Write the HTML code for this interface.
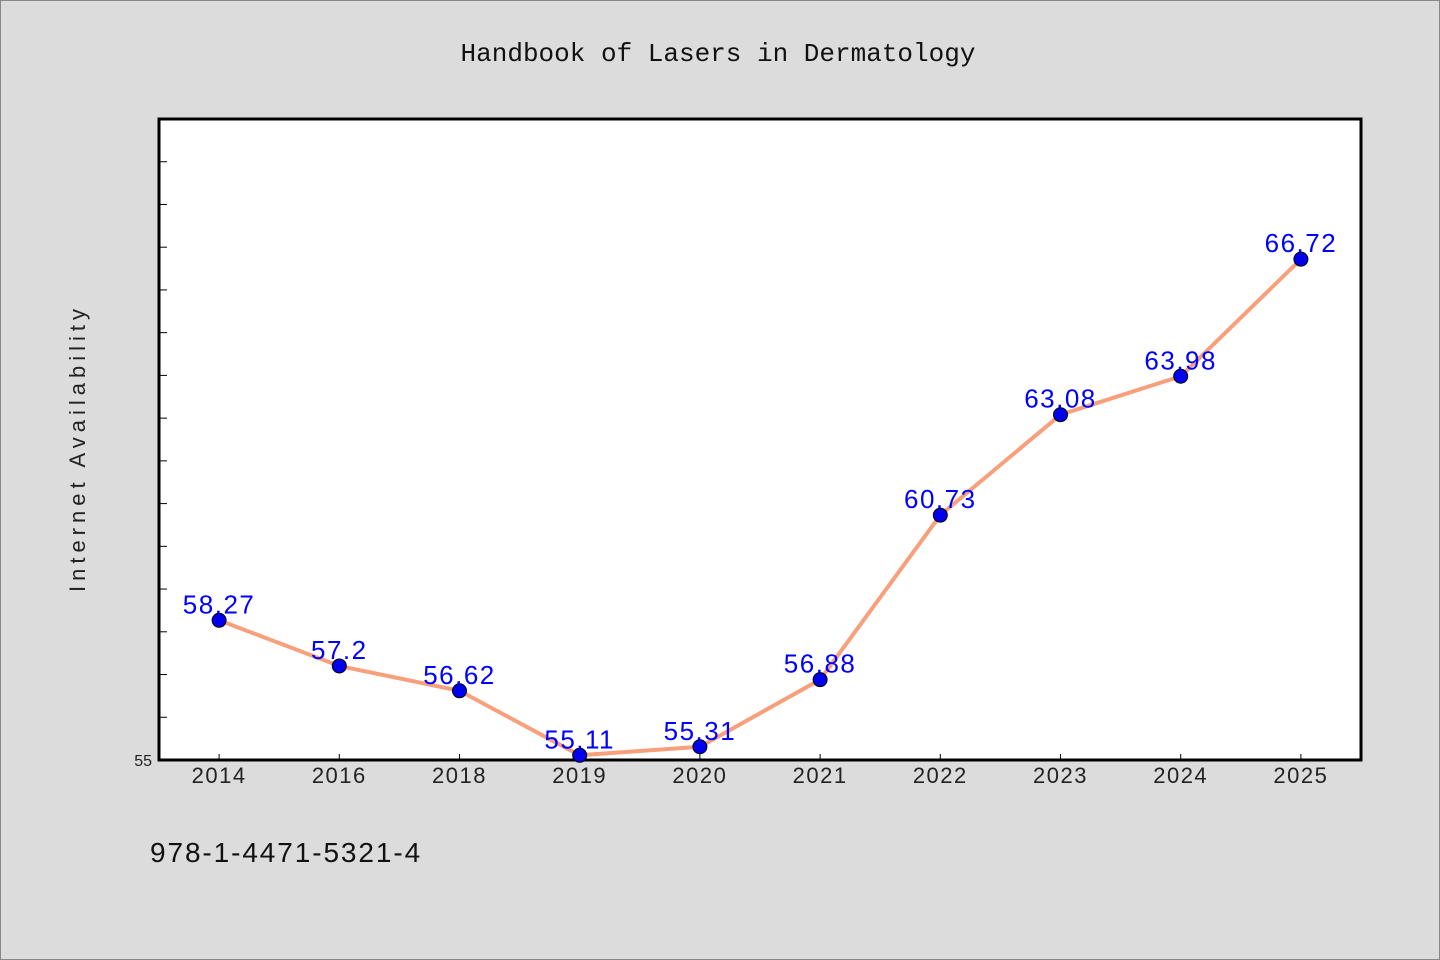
<!DOCTYPE html>
<html><head><meta charset="utf-8"><style>
html,body{margin:0;padding:0;}
body{width:1440px;height:960px;background:#dcdcdc;overflow:hidden;}
svg{display:block;}
text{font-family:"Liberation Sans",sans-serif;}
</style></head><body>
<svg id="chart" width="1440" height="960">
<rect x="0.5" y="0.5" width="1439" height="959" fill="#dcdcdc" stroke="#888"/>
<text x="718" y="61" font-size="26" text-anchor="middle" fill="#111" style="font-family:'Liberation Mono',monospace">Handbook of Lasers in Dermatology</text>
<rect x="159" y="119" width="1202" height="641" fill="#fff" stroke="#000" stroke-width="3"/>
<text transform="translate(85,448) rotate(-90)" font-size="22" text-anchor="middle" fill="#222" letter-spacing="5">Internet Availability</text>
<text x="150" y="862" font-size="28" fill="#111" letter-spacing="1.9">978-1-4471-5321-4</text>
<g id="ticks"></g><g id="series"></g>
</svg>
<script>
const categories=["2014","2016","2018","2019","2020","2021","2022","2023","2024","2025"];
const values=[58.27,57.2,56.62,55.11,55.31,56.88,60.73,63.08,63.98,66.72];
const labels=["58.27","57.2","56.62","55.11","55.31","56.88","60.73","63.08","63.98","66.72"];
const yMin=55,yMax=70;
const L=159,R=1361,T=119,B=760;
const NS="http://www.w3.org/2000/svg";
const band=(R-L)/categories.length;
const x=i=>L+band*(i+0.5);
const y=v=>B-(v-yMin)/(yMax-yMin)*(B-T);
function mk(t,a,p){const e=document.createElementNS(NS,t);for(const k in a)e.setAttribute(k,a[k]);p.appendChild(e);return e;}
const tg=document.getElementById('ticks'),sg=document.getElementById('series');
for(let v=yMin;v<yMax;v++){
  const l=mk('line',{x1:L,x2:L+8,y1:y(v),y2:y(v),stroke:'#000','stroke-width':1},tg);
  
  
}
const yl=mk('text',{x:152,y:766,'font-size':16,'text-anchor':'end',fill:'#222'},tg);yl.textContent="55";


categories.forEach((c,i)=>{
  const l=mk('line',{x1:x(i),x2:x(i),y1:B,y2:B-6,stroke:'#000','stroke-width':1},tg);
  
  
  const t=mk('text',{x:x(i),y:783,'font-size':22,'text-anchor':'middle',fill:'#222','letter-spacing':1.5},tg);t.textContent=c;
  
  
});
const pl=mk('polyline',{points:values.map((v,i)=>x(i)+','+y(v)).join(' '),fill:'none',stroke:'#f8a07c','stroke-width':4},sg);


values.forEach((v,i)=>{
  const c=mk('circle',{cx:x(i),cy:y(v),r:7,fill:'#0000ee',stroke:'#000','stroke-width':1},sg);
  
  
  const t=mk('text',{x:x(i),y:y(v)-7,'font-size':26,'text-anchor':'middle',fill:'#0000ff','letter-spacing':1.5},sg);t.textContent=labels[i];
  
  
});
</script>
</body></html>
